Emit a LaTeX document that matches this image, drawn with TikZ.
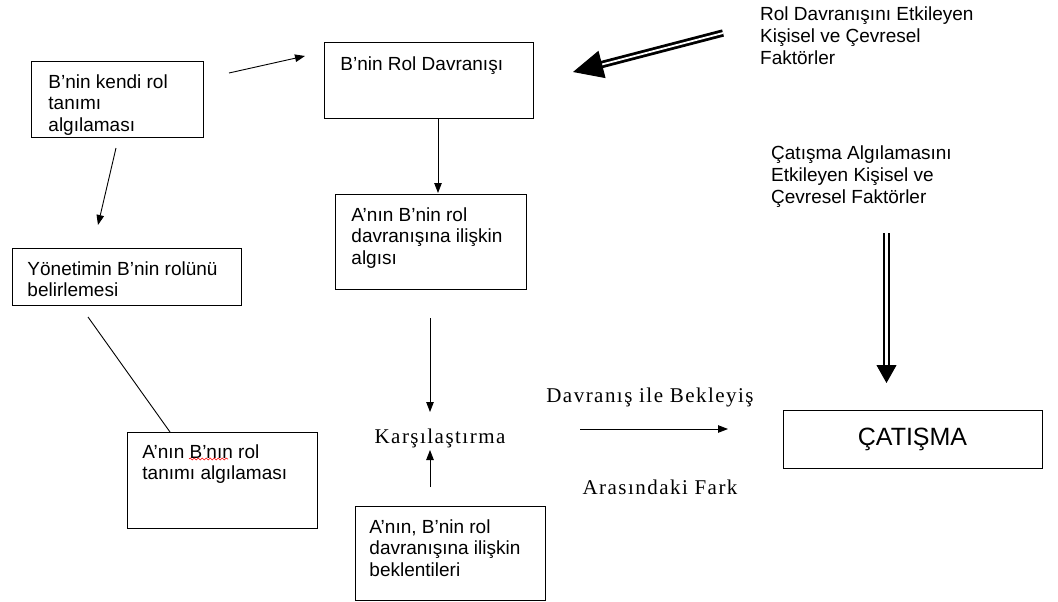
\documentclass[tikz,border=0pt]{standalone}
\usepackage{fontspec}
\setmainfont{Liberation Sans}
\newfontfamily\serifyazi[LetterSpace=7]{Liberation Serif}
\usetikzlibrary{arrows.meta, calc, decorations.pathmorphing}

% kutu icindeki yazi: genislik, yukseklik, ust bosluk, sol bosluk, metin
\newcommand{\kutuici}[5]{\parbox[c][#2pt][t]{#1pt}{\raggedright\leftskip=#4pt\vspace*{#3pt}#5\par}}

\tikzset{
  kutu/.style={draw, line width=0.9pt, anchor=north west, inner sep=0pt,
    font=\fontsize{19}{21.5}\selectfont},
  ok/.style={-{Triangle[length=10pt,width=7.5pt]}, line width=0.9pt},
  serifyazi/.style={inner sep=0pt, font=\serifyazi\fontsize{21}{24}\selectfont},
  notyazi/.style={anchor=north west, inner sep=0pt, align=left,
    font=\fontsize{19}{22}\selectfont},
}

\begin{document}
\begin{tikzpicture}[x=1pt, y=-1pt]
        \useasboundingbox (0,0) rectangle (1058,602);

        % kutular
        \node[kutu] (kendi) at (31,61) {\kutuici{172}{76}{13}{17}{B'nin kendi rol\\ tanımı\\ algılaması}};
        \node[kutu] (davranis) at (324,42) {\kutuici{209}{76}{14}{16}{B'nin Rol Davranışı}};
        \node[kutu] (algi) at (335,194) {\kutuici{191}{95}{13}{16}{A'nın B'nin rol\\ davranışına ilişkin\\ algısı}};
        \node[kutu] (yonetim) at (12,248) {\kutuici{229}{57}{13}{15}{Yönetimin B'nin rolünü\\ belirlemesi}};
        \node[kutu] (tanim) at (127,432) {\kutuici{190}{96}{12}{15}{A'nın B'nın rol\\ tanımı algılaması}};
        \node[kutu] (beklenti) at (355,506) {\kutuici{190}{94}{13}{14}{A'nın, B'nin rol\\ davranışına ilişkin\\ beklentileri}};
        \node[draw, line width=0.9pt, minimum width=259pt, minimum height=58pt,
              font=\fontsize{25}{30}\selectfont] (catisma) at (912.5,439) {ÇATIŞMA};

        % serbest yazilar
        \node[notyazi] (etkenler) at (760,7) {Rol Davranışını Etkileyen\\ Kişisel ve Çevresel\\ Faktörler};
        \node[notyazi] (algietken) at (771,146) {Çatışma Algılamasını\\ Etkileyen Kişisel ve\\ Çevresel Faktörler};
        \node[serifyazi] (karsi) at (440,438) {Karşılaştırma};
        \node[serifyazi] (fark1) at (650,397) {Davranış ile Bekleyiş};
        \node[serifyazi] (fark2) at (660,487) {Arasındaki Fark};

        % ok uclari
        \coordinate (k1) at (229,73);   \coordinate (k2) at (305,56);
        \coordinate (k3) at (116,148);  \coordinate (k4) at (98,225);
        \coordinate (d1) at (438,118);  \coordinate (d2) at (438,193);
        \coordinate (a1) at (430,318);  \coordinate (a2) at (430,412);
        \coordinate (b1) at (430,487);  \coordinate (b2) at (430,450);
        \coordinate (f1) at (580,429);  \coordinate (f2) at (728,429);
        \coordinate (y1) at (88,317);   \coordinate (y2) at (170,432);
        \coordinate (e1) at (723,33);   \coordinate (e2) at (573,72);
        \coordinate (c1) at (886.5,233); \coordinate (c2) at (886.5,383);

        \draw[ok] (k1) -- (k2);
        \draw[ok] (k3) -- (k4);
        \draw[ok] (d1) -- (d2);
        \draw[ok] (a1) -- (a2);
        \draw[ok] (b1) -- (b2);
        \draw[ok] (f1) -- (f2);
        \draw[line width=0.9pt] (y1) -- (y2);

        % kalin oklar
        \draw[double, line width=2.8pt, double distance=1.8pt] (e1) -- ($(e2)!26pt!(e1)$);
        \draw[-{Triangle[length=30pt,width=28pt]}, line width=1pt] ($(e2)!30pt!(e1)$) -- (e2);
        \draw[double, line width=1.6pt, double distance=3pt] (c1) -- ($(c2)!16pt!(c1)$);
        \draw[-{Triangle[length=18pt,width=20pt]}, line width=1pt] ($(c2)!18pt!(c1)$) -- (c2);

        % yazim denetimi cizgisi
        \draw[red, line width=0.6pt, decorate, decoration={snake, amplitude=1pt, segment length=4pt}]
          (189,459) -- (228,459);
\end{tikzpicture}
\end{document}
